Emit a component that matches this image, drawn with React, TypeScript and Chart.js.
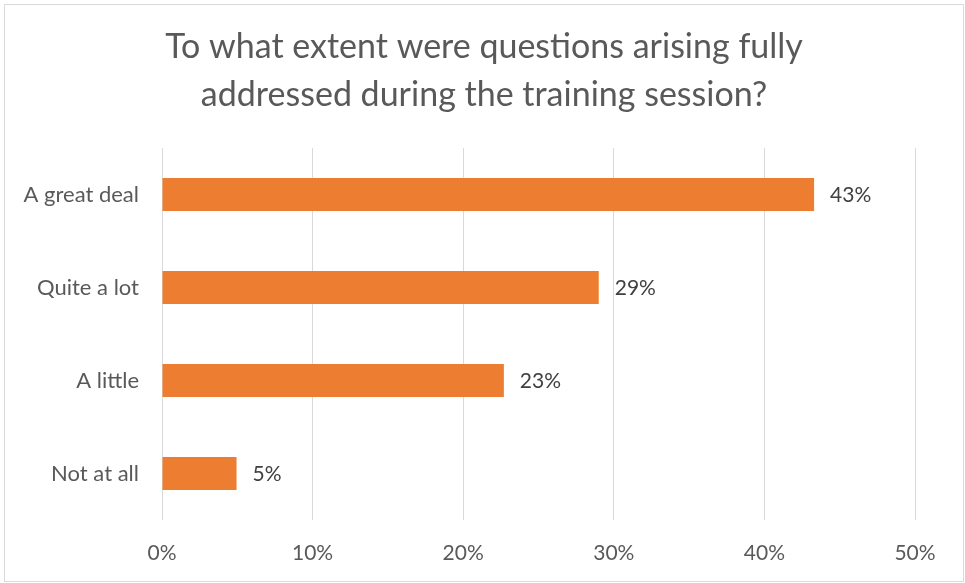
import React, { useEffect, useRef } from "react";
import { Chart, registerables } from "chart.js";

Chart.register(...registerables);

const titleLines = ["To what extent were questions arising fully", "addressed during the training session?"];
const categories = ["A great deal", "Quite a lot", "A little", "Not at all"];
const values = [43.3, 29.0, 22.7, 4.95];
const xTicks = [0, 10, 20, 30, 40, 50];

const FONT = "Lato, 'Open Sans', sans-serif";

const framePlugin = {
  id: "frame",
  beforeDraw(chart: any) {
    const ctx = chart.ctx;
    ctx.save();
    ctx.fillStyle = "#ffffff";
    ctx.fillRect(0, 0, chart.width, chart.height);
    ctx.strokeStyle = "#d9d9d9";
    ctx.lineWidth = 1;
    ctx.strokeRect(4.5, 4.5, 959, 577);
    ctx.fillStyle = "#595959";
    ctx.font = `34px ${FONT}`;
    ctx.textAlign = "center";
    ctx.textBaseline = "middle";
    ctx.fillText(titleLines[0], 484, 47);
    ctx.fillText(titleLines[1], 484, 95);
    ctx.restore();
  },
};

const labelPlugin = {
  id: "valueLabels",
  afterDatasetsDraw(chart: any) {
    const ctx = chart.ctx;
    const meta = chart.getDatasetMeta(0);
    ctx.save();
    ctx.fillStyle = "#404040";
    ctx.font = `21px ${FONT}`;
    ctx.textAlign = "left";
    ctx.textBaseline = "middle";
    meta.data.forEach((bar: any, i: number) => {
      ctx.fillText(`${Math.round(values[i])}%`, bar.x + 16, bar.y + 1);
    });
    ctx.restore();
  },
};

export default function App() {
  const ref = useRef<HTMLCanvasElement | null>(null);
  useEffect(() => {
    if (!ref.current) return;
    const chart = new Chart(ref.current, {
      type: "bar",
      data: {
        labels: categories,
        datasets: [
          {
            data: values,
            backgroundColor: "#ED7D31",
            borderWidth: 0,
            barPercentage: 0.355,
            categoryPercentage: 1,
          },
        ],
      },
      options: {
        indexAxis: "y",
        responsive: false,
        animation: false,
        devicePixelRatio: 1,
        layout: { padding: { left: 0, right: 50, top: 148, bottom: 0 } },
        plugins: {
          legend: { display: false },
          tooltip: { enabled: false },
          title: { display: false },
        },
        scales: {
          x: {
            min: 0,
            max: 50,
            afterBuildTicks(scale: any) {
              scale.ticks = xTicks.map((v) => ({ value: v }));
            },
            afterFit(scale: any) {
              scale.height = 583 - 520;
            },
            grid: { color: "#d9d9d9", lineWidth: 1, drawTicks: false },
            border: { display: false },
            ticks: {
              color: "#595959",
              font: { family: FONT, size: 21 },
              padding: 21,
              callback: (v: any) => `${v}%`,
            },
          },
          y: {
            afterFit(scale: any) {
              scale.width = 162;
            },
            grid: { display: false, drawTicks: false },
            border: { display: false },
            ticks: {
              color: "#595959",
              font: { family: FONT, size: 22 },
              padding: 23,
            },
          },
        },
      },
      plugins: [framePlugin, labelPlugin],
    });
    return () => chart.destroy();
  }, []);
  return (
    <div style={{ position: "absolute", left: 0, top: 0, width: 965, height: 583 }}>
      <canvas ref={ref} width={965} height={583} style={{ display: "block" }} />
    </div>
  );
}
